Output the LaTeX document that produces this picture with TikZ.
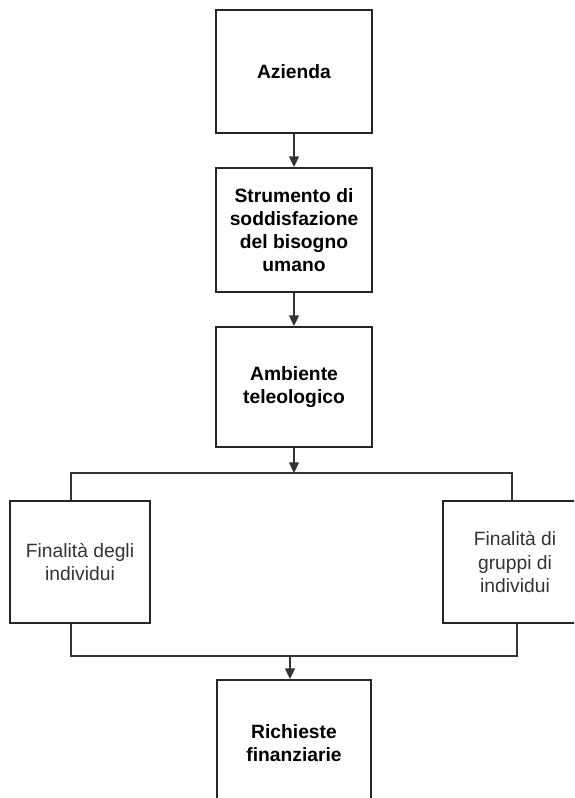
\documentclass[tikz,border=0pt]{standalone}
\usepackage{fontspec}
\setmainfont{Liberation Sans}
\usetikzlibrary{arrows.meta,positioning,calc}

\begin{document}
\begin{tikzpicture}[x=0.025cm,y=-0.025cm,>={Triangle[length=7.5pt,width=7pt]},
    box/.style={draw, line width=1.4pt, inner sep=0pt, align=center, black!85,
        text=black, font=\fontsize{13.7}{16.4}\selectfont\bfseries},
    sidebox/.style={box, text=black!80, font=\fontsize{13.7}{16.4}\selectfont},
    link/.style={line width=0.9pt, black!80}]
    \useasboundingbox (0,0) rectangle (574,798);
    \clip (0,0) rectangle (574,798);

    % Main column
    \node[box, minimum width=3.9cm, minimum height=3.075cm] (az) at (294,71.5) {Azienda};
    \node[box, minimum width=3.9cm, minimum height=3.1cm] (stru) at (294,230)
        {Strumento di\\soddisfazione\\del bisogno\\umano};
    \node[box, minimum width=3.9cm, minimum height=3.0cm] (amb) at (294,387)
        {Ambiente\\teleologico};

    % Branches
    \node[sidebox, minimum width=3.5cm, minimum height=3.05cm] (indiv) at (80,562)
        {Finalità degli\\individui};
    \node[sidebox, minimum width=3.6cm, minimum height=3.05cm] (gruppi) at (515,562)
        {Finalità di\\gruppi di\\individui};

    % Bottom
    \node[box, minimum width=3.85cm, minimum height=3.15cm] (rich) at (294,743)
        {Richieste\\finanziarie};

    % Connectors
    \coordinate (split) at (294,473);
    \coordinate (splitL) at (71,473);
    \coordinate (splitR) at (512,473);
    \coordinate (join) at (290,656);
    \coordinate (joinL) at (71,656);
    \coordinate (joinR) at (517,656);

    \draw[link,->] (az) -- (stru);
    \draw[link,->] (stru) -- (amb);
    \draw[link,->] (amb) -- (split);
    \draw[link] (splitL |- indiv.north) -- (splitL) -- (splitR) -- (splitR |- gruppi.north);
    \draw[link] (joinL |- indiv.south) -- (joinL) -- (joinR) -- (joinR |- gruppi.south);
    \draw[link,->] (join) -- (join |- rich.north);
\end{tikzpicture}
\end{document}
